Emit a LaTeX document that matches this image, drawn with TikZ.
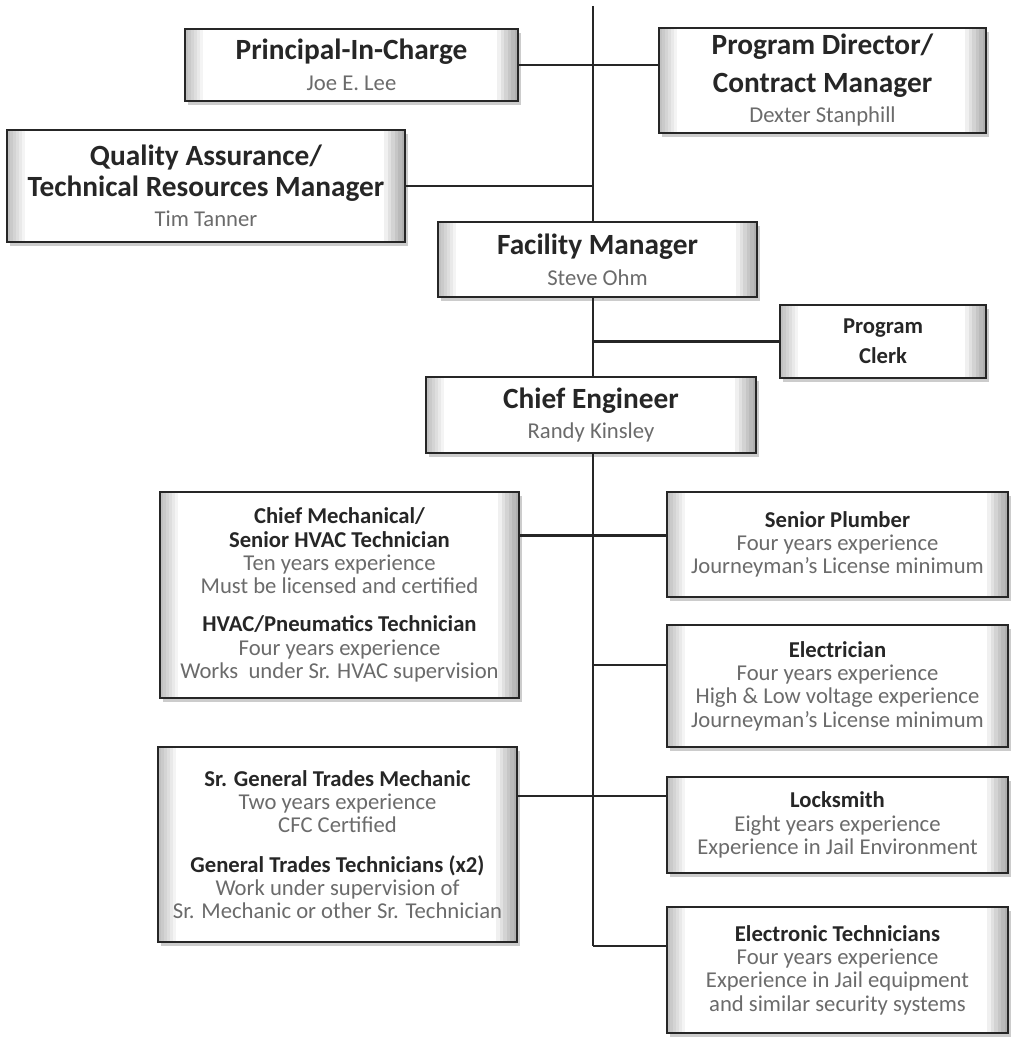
\documentclass[tikz,border=0pt]{standalone}
\usepackage{fontspec}
\setmainfont{Carlito}
\usetikzlibrary{shadows}

\newcommand{\ttl}[1]{{\bfseries\color{black!85}#1}}
\newcommand{\dtl}[1]{{\color{black!58}#1}}
\newcommand{\nm}[1]{{\fontsize{17}{19}\selectfont\color{black!58}#1}}

\tikzset{
    box/.style={draw=black!85,line width=1.1pt,fill=white,align=center,inner sep=2pt,
      drop shadow={shadow xshift=2.5pt,shadow yshift=-3pt,fill=black!40},
      path picture={
        \foreach \i in {1,...,6} {
          \fill[black,opacity=0.045] (path picture bounding box.south west) rectangle ([xshift=\i*2.2pt]path picture bounding box.north west);
          \fill[black,opacity=0.06] ([xshift=-\i*2.6pt]path picture bounding box.south east) rectangle (path picture bounding box.north east);
        }
      }},
    wd/.style={minimum width=#1*0.75pt},
    ht/.style={minimum height=#1*0.75pt},
    big/.style={font=\fontsize{22}{23}\selectfont},
    small/.style={font=\fontsize{17}{17.5}\selectfont},
    link/.style={draw=black!85,line width=2pt},
    spine/.style={draw=black!85,line width=1.6pt}
}

\begin{document}
\begin{tikzpicture}[x=0.75pt,y=-0.75pt]
    \useasboundingbox (0,0) rectangle (1016,1038);

    % upper management
    \node (pic) at (351.5,65) [box,wd=333,ht=72,big] {\ttl{Principal-In-Charge}\\\nm{Joe E. Lee}};
    \node (pd) at (822.5,80.5) [box,wd=327,ht=105,big] {\ttl{Program Director/}\\[5pt]\ttl{Contract Manager}\\\nm{Dexter Stanphill}};
    \node (qa) at (206,186) [box,wd=398,ht=112,big] {\ttl{Quality Assurance/}\\\ttl{Technical Resources Manager}\\\nm{Tim Tanner}};
    \node (fm) at (597.5,259.5) [box,wd=319,ht=75,big] {\ttl{Facility Manager}\\\nm{Steve Ohm}};
    \node (clerk) at (883,341.5) [box,wd=206,ht=73,font=\fontsize{17}{22.5}\selectfont] {\ttl{Program}\\\ttl{Clerk}};
    \node (ce) at (591,415) [box,wd=330,ht=76,big] {\ttl{Chief Engineer}\\\nm{Randy Kinsley}};

    % trades
    \node (cm) at (339.5,595) [box,wd=359,ht=206,small] {\ttl{Chief Mechanical/}\\\ttl{Senior HVAC Technician}\\\dtl{Ten years experience}\\\dtl{Must be licensed and certified}\\[11pt]\ttl{HVAC/Pneumatics Technician}\\\dtl{Four years experience}\\\dtl{Works\ \ under Sr. HVAC supervision}};
    \node (sp) at (837.5,544.5) [box,wd=341,ht=105,small] {\ttl{Senior Plumber}\\\dtl{Four years experience}\\\dtl{Journeyman’s License minimum}};
    \node (el) at (837.5,686) [box,wd=341,ht=122,small] {\ttl{Electrician}\\\dtl{Four years experience}\\\dtl{High \& Low voltage experience}\\\dtl{Journeyman’s License minimum}};
    \node (sgt) at (337.5,844.5) [box,wd=359,ht=195,small] {\ttl{Sr. General Trades Mechanic}\\\dtl{Two years experience}\\\dtl{CFC Certified}\\[12pt]\ttl{General Trades Technicians (x2)}\\\dtl{Work under supervision of}\\\dtl{Sr. Mechanic or other Sr. Technician}};
    \node (lock) at (837.5,825) [box,wd=341,ht=96,small] {\ttl{Locksmith}\\\dtl{Eight years experience}\\\dtl{Experience in Jail Environment}};
    \node (et) at (837.5,970) [box,wd=341,ht=126,small] {\ttl{Electronic Technicians}\\\dtl{Four years experience}\\\dtl{Experience in Jail equipment}\\\dtl{and similar security systems}};

    \coordinate (top) at (593,6);
    \coordinate (bot) at (593,946);

    \draw[spine] (top) -- (top |- fm.north) (fm.south -| top) -- (ce.north -| top) (ce.south -| top) -- (bot);
    \draw[link] (bot) -- (bot -| et.west);
    \draw[link] (pic.east) -- (pic.east -| pd.west) (qa.east) -- (qa.east -| top) (clerk.west) -- (clerk.west -| top);
    \draw[link] ([yshift=7pt]sp.west) -- ([yshift=7pt]sp.west -| cm.east) ([yshift=15.75pt]el.west) -- ([yshift=15.75pt]el.west -| top);
    \draw[link] ([yshift=21.75pt]lock.west) -- ([yshift=21.75pt]lock.west -| sgt.east);
\end{tikzpicture}
\end{document}
